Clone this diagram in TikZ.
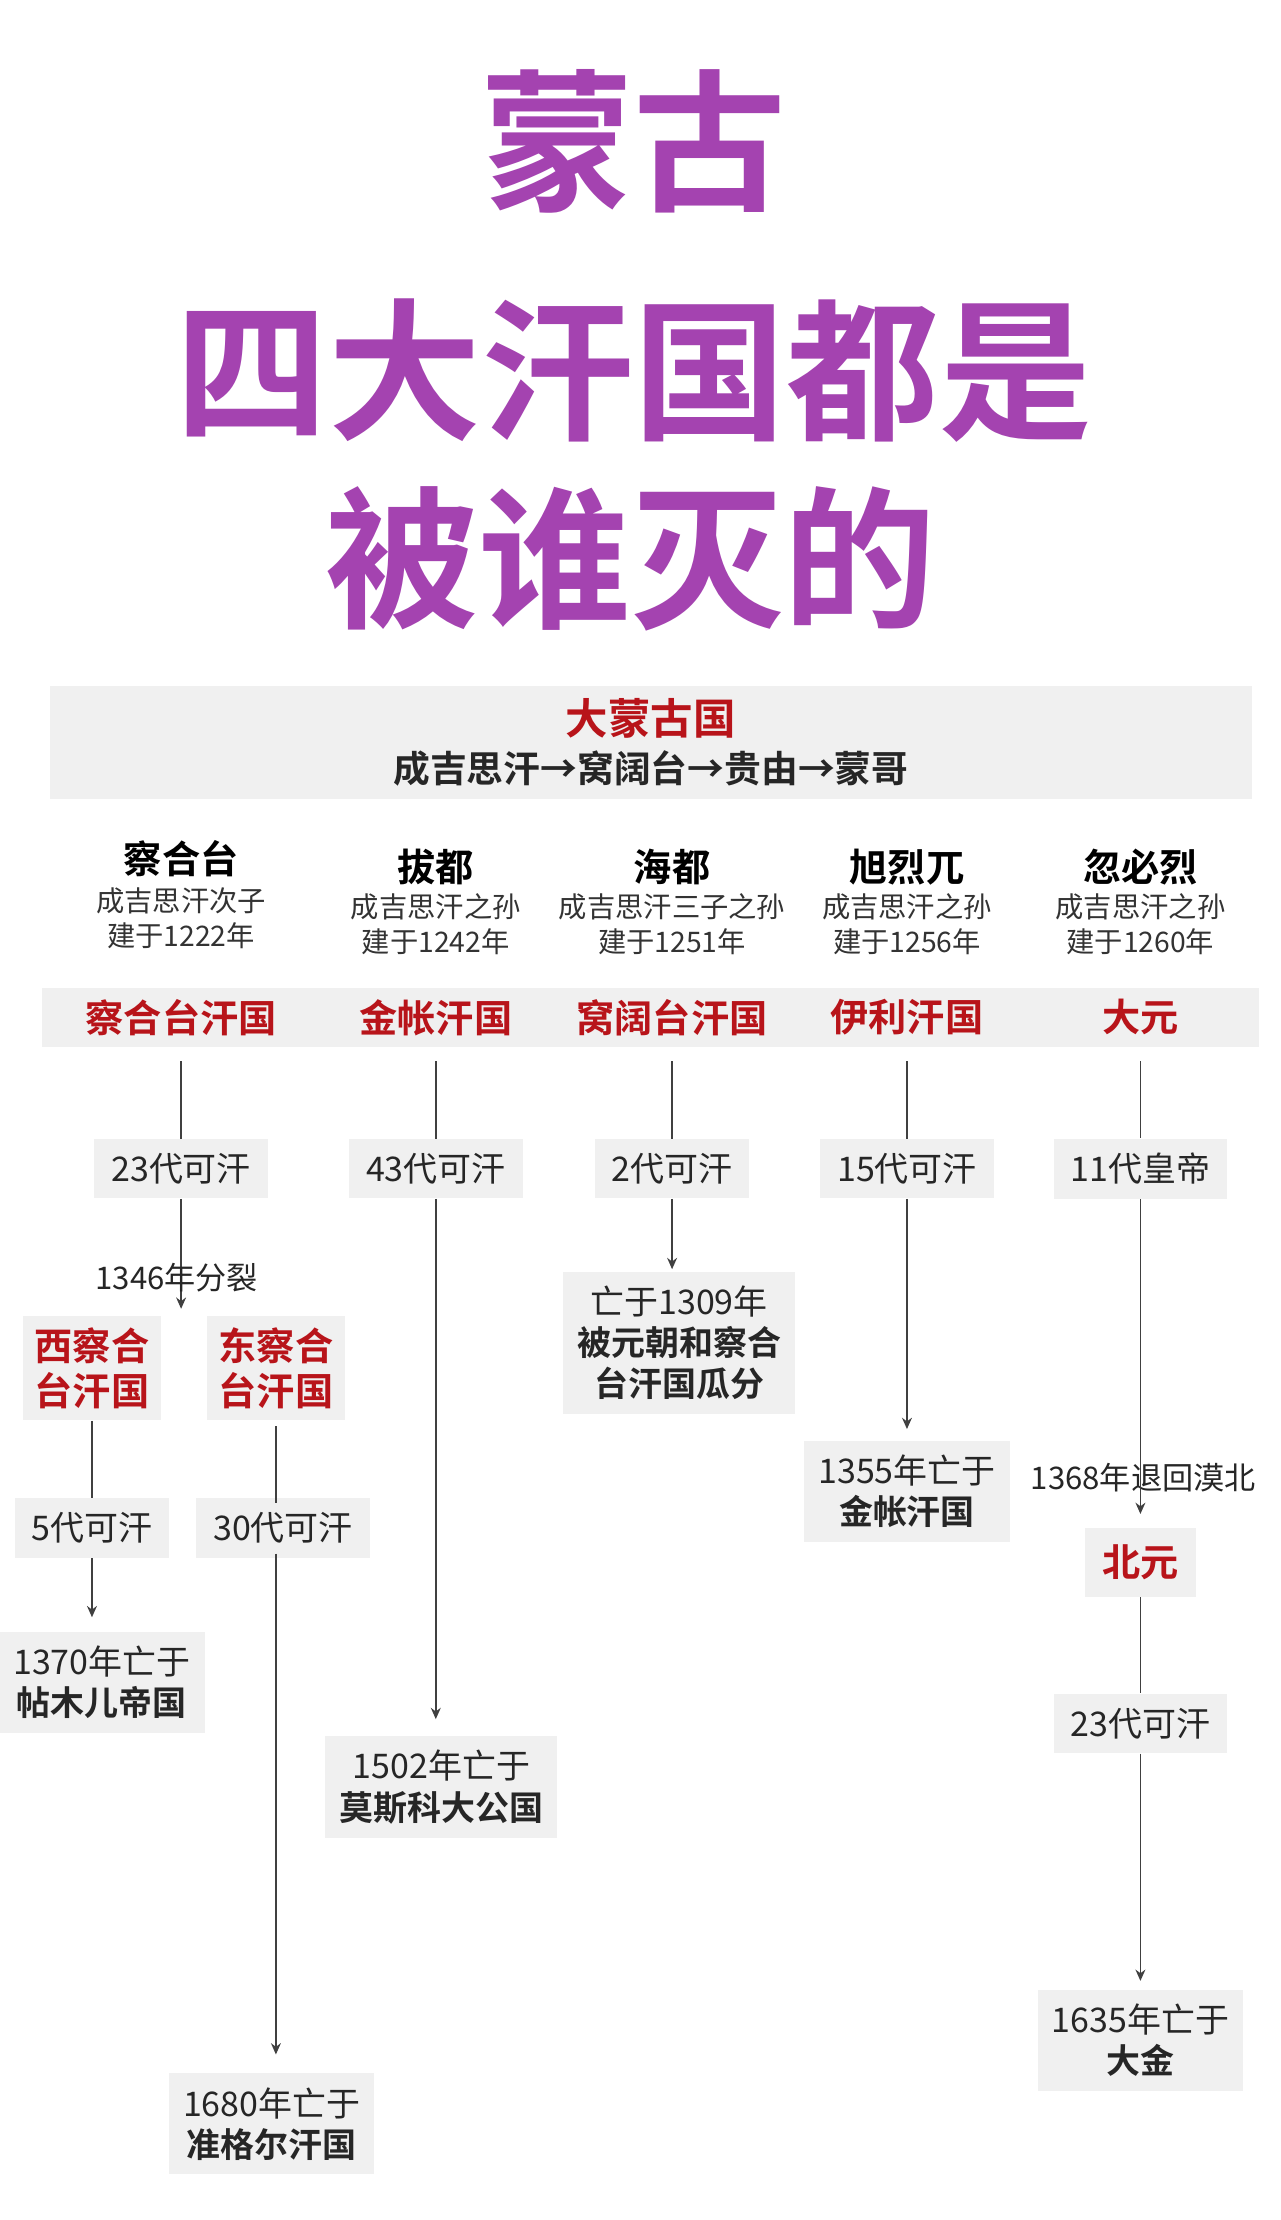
\documentclass[tikz,border=0pt]{standalone}
\usepackage{fontspec}
\setmainfont{Noto Sans CJK SC}[BoldFont={Noto Sans CJK SC Bold}]
\usetikzlibrary{arrows.meta}
\definecolor{ttl}{HTML}{A443B0}
\definecolor{kred}{HTML}{B8141A}
\definecolor{bandg}{HTML}{F0F0F0}
\tikzset{
 ttlt/.style={text=ttl,font=\fontsize{54}{60}\selectfont\bfseries,inner sep=0},
 pname/.style={font=\fontsize{13.5}{15}\selectfont\bfseries,inner sep=0},
 psub/.style={font=\fontsize{10}{12.5}\selectfont,align=center,inner sep=0,text=black!80},
 khan/.style={font=\fontsize{13.5}{16}\selectfont\bfseries,text=kred,align=center,inner sep=0},
 lab/.style={font=\fontsize{12}{14}\selectfont,fill=bandg,inner xsep=6pt,inner ysep=5pt,text=black!85},
 endt/.style={font=\fontsize{12}{14.5}\selectfont,align=center,fill=bandg,inner sep=5pt,text=black!85},
 ln/.style={draw=black!75,line width=0.6pt},
 ar/.style={ln,-{Stealth[length=4pt,width=3.5pt]}},
}
\begin{document}
\begin{tikzpicture}[x=0.5pt,y=-0.5pt]
\useasboundingbox (0,0) rectangle (905,1569);
\fill[white] (0,0) rectangle (905,1569);
\node[ttlt] (t1) at (448,100) {蒙古};
\node[ttlt] (t2) at (448,262) {四大汗国都是};
\node[ttlt] (t3) at (446,395) {被谁灭的};
\fill[bandg] (35,485) rectangle (885,565);
\node[font=\fontsize{15}{17}\selectfont\bfseries,text=kred,inner sep=0] (h1) at (460,508) {大蒙古国};
\node[font=\fontsize{13}{15}\selectfont\bfseries,text=black!85,inner sep=0] (h2) at (460,543) {成吉思汗→窝阔台→贵由→蒙哥};
% names
\node[pname] (n1) at (128,607) {察合台};
\node[psub] (s1) at (128,649) {成吉思汗次子\\建于1222年};
\node[pname] (n2) at (308,613) {拔都};
\node[psub] (s2) at (308,653) {成吉思汗之孙\\建于1242年};
\node[pname] (n3) at (475,613) {海都};
\node[psub] (s3) at (475,653) {成吉思汗三子之孙\\建于1251年};
\node[pname] (n4) at (641,613) {旭烈兀};
\node[psub] (s4) at (641,653) {成吉思汗之孙\\建于1256年};
\node[pname] (n5) at (806,613) {忽必烈};
\node[psub] (s5) at (806,653) {成吉思汗之孙\\建于1260年};
\fill[bandg] (30,698) rectangle (890,740);
\node[khan] (k1) at (128,719) {察合台汗国};
\node[khan] (k2) at (308,719) {金帐汗国};
\node[khan] (k3) at (475,719) {窝阔台汗国};
\node[khan] (k4) at (641,719) {伊利汗国};
\node[khan] (k5) at (806,719) {大元};
% col1
\node[lab] (l1) at (128,826) {23代可汗};
\coordinate (c1) at (128,925);
\draw[ln] (128,750) -- (l1);
\draw[ar] (l1) -- (c1);
\node[font=\fontsize{11}{13}\selectfont,inner sep=0,text=black!85] (sp) at (125,903) {1346年分裂};
\node[khan,fill=bandg,inner sep=4pt] (w) at (65,967) {西察合\\台汗国};
\node[khan,fill=bandg,inner sep=4pt] (e) at (195,967) {东察合\\台汗国};
\node[lab] (l1a) at (65,1080) {5代可汗};
\node[endt] (d1a) at (72,1189) {1370年亡于\\\textbf{帖木儿帝国}};
\draw[ln] (w) -- (l1a);
\draw[ar] (l1a) -- (65,1143);
\node[lab] (l1b) at (200,1080) {30代可汗};
\node[endt] (d1b) at (192,1501) {1680年亡于\\\textbf{准格尔汗国}};
\draw[ln] (195,1008) -- (195,1062);
\draw[ar] (195,1098) -- (195,1452);
% col2
\node[lab] (l2) at (308,826) {43代可汗};
\node[endt] (d2) at (312,1263) {1502年亡于\\\textbf{莫斯科大公国}};
\draw[ln] (308,750) -- (l2);
\draw[ar] (l2) -- (308,1215);
% col3
\node[lab] (l3) at (475,826) {2代可汗};
\node[endt] (d3) at (480,949) {亡于1309年\\\textbf{被元朝和察合}\\\textbf{台汗国瓜分}};
\draw[ln] (475,750) -- (l3);
\draw[ar] (l3) -- (475,897);
% col4
\node[lab] (l4) at (641,826) {15代可汗};
\node[endt] (d4) at (641,1054) {1355年亡于\\\textbf{金帐汗国}};
\draw[ln] (641,750) -- (l4);
\draw[ar] (l4) -- (641,1010);
% col5
\node[lab] (l5) at (806,826) {11代皇帝};
\node[font=\fontsize{11}{13}\selectfont,inner sep=0,text=black!85] (tb) at (808,1044) {1368年退回漠北};
\node[khan,fill=bandg,inner sep=6pt] (by) at (806,1104) {北元};
\node[lab] (l5b) at (806,1218) {23代可汗};
\node[endt] (d5) at (806,1442) {1635年亡于\\\textbf{大金}};
\draw[ln] (806,750) -- (l5);
\draw[ar] (l5) -- (806,1070);
\draw[ln] (by) -- (l5b);
\draw[ar] (l5b) -- (806,1400);
\end{tikzpicture}
\end{document}
